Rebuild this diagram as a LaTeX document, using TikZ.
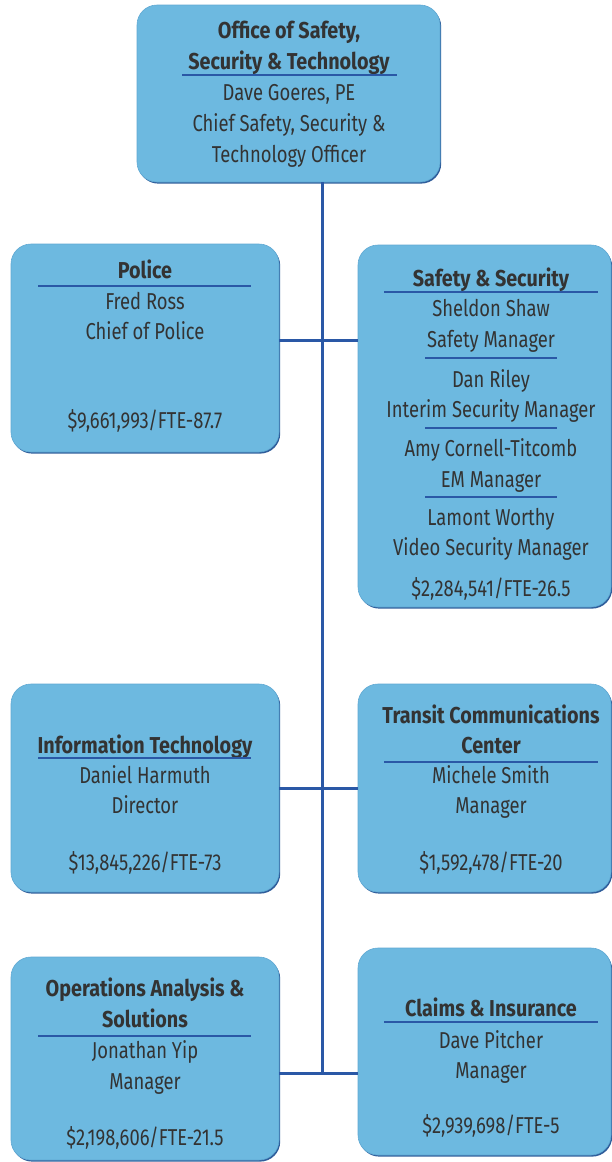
\documentclass[tikz,border=0pt]{standalone}
\usepackage{fontspec}
\setmainfont{Fira Sans}[FakeStretch=0.8, BoldFeatures={FakeStretch=0.86}]
\usetikzlibrary{positioning}
\definecolor{boxfill}{HTML}{6DB9E0}
\definecolor{boxedge}{HTML}{5FA8D3}
\definecolor{boxshadow}{HTML}{2F5D9A}
\definecolor{linkblue}{HTML}{2A58A6}
\definecolor{txt}{HTML}{333333}
\tikzset{
  orgbox/.style={rectangle, rounded corners=20pt, fill=boxfill, draw=boxedge, line width=0.6pt,
    preaction={fill=boxshadow, transform canvas={shift={(1.2pt,-1.6pt)}}}, inner sep=0pt},
  ln/.style={anchor=base, text=txt, inner sep=0pt, font=\fontsize{23}{27}\selectfont},
  hd/.style={ln, font=\fontsize{23}{27}\selectfont\bfseries},
  sep/.style={draw=linkblue, line width=1.1pt},
  link/.style={draw=linkblue, line width=3pt}
}
\begin{document}
\begin{tikzpicture}[x=1pt,y=-1pt]
\useasboundingbox (0,0) rectangle (612,1162);
% boxes
\node[orgbox, minimum width=303pt, minimum height=177pt] (top) at (288.5,93.5) {};
\node[orgbox, minimum width=268pt, minimum height=208pt] (police) at (145,348) {};
\node[orgbox, minimum width=253pt, minimum height=362pt] (safety) at (484.5,426) {};
\node[orgbox, minimum width=268pt, minimum height=208pt] (it) at (145,788) {};
\node[orgbox, minimum width=253pt, minimum height=208pt] (tcc) at (484.5,788) {};
\node[orgbox, minimum width=268pt, minimum height=203pt] (oa) at (145,1058.5) {};
\node[orgbox, minimum width=253pt, minimum height=207pt] (claims) at (484.5,1051.5) {};
% connectors
\coordinate (j1) at (322,340);
\coordinate (j2) at (322,788);
\coordinate (j3) at (322,1073);
\draw[link] (top.south -| j1) -- (j3);
\draw[link] (police.east |- j1) -- (safety.west |- j1);
\draw[link] (it.east |- j2) -- (tcc.west |- j2);
\draw[link] (oa.east |- j3) -- (claims.west |- j3);
% top text
\node[hd] (t1) at (289,38) {Office of Safety,};
\node[hd] (t2) at (289,69) {Security \& Technology};
\draw[sep] (182,75) -- (397,75);
\node[ln] (t3) at (289,100) {Dave Goeres, PE};
\node[ln] (t4) at (289,131) {Chief Safety, Security \&};
\node[ln] (t5) at (289,162) {Technology Officer};
% police
\node[hd] (p1) at (145,278) {Police};
\draw[sep] (38,286) -- (251,286);
\node[ln] (p2) at (145,309) {Fred Ross};
\node[ln] (p3) at (145,339) {Chief of Police};
\node[ln] (p4) at (145,428) {\$9,661,993/FTE-87.7};
% safety
\node[hd] (s1) at (491,286) {Safety \& Security};
\draw[sep] (384,292) -- (598,292);
\node[ln] (s2) at (491,316) {Sheldon Shaw};
\node[ln] (s3) at (491,347) {Safety Manager};
\draw[sep] (425,358) -- (557,358);
\node[ln] (s4) at (491,387) {Dan Riley};
\node[ln] (s5) at (491,417) {Interim Security Manager};
\draw[sep] (425,428) -- (557,428);
\node[ln] (s6) at (491,456) {Amy Cornell-Titcomb};
\node[ln] (s7) at (491,487) {EM Manager};
\draw[sep] (425,497) -- (557,497);
\node[ln] (s8) at (491,525) {Lamont Worthy};
\node[ln] (s9) at (491,555) {Video Security Manager};
\node[ln] (s10) at (491,596) {\$2,284,541/FTE-26.5};
% IT
\node[hd] (i1) at (145,753) {Information Technology};
\draw[sep] (38,758) -- (251,758);
\node[ln] (i2) at (145,783) {Daniel Harmuth};
\node[ln] (i3) at (145,813) {Director};
\node[ln] (i4) at (145,870) {\$13,845,226/FTE-73};
% TCC
\node[hd] (c1) at (491,723) {Transit Communications};
\node[hd] (c2) at (491,753) {Center};
\draw[sep] (384,762) -- (598,762);
\node[ln] (c3) at (491,783) {Michele Smith};
\node[ln] (c4) at (491,813) {Manager};
\node[ln] (c5) at (491,870) {\$1,592,478/FTE-20};
% OA
\node[hd] (o1) at (145,996) {Operations Analysis \&};
\node[hd] (o2) at (145,1027) {Solutions};
\draw[sep] (38,1036) -- (251,1036);
\node[ln] (o3) at (145,1058) {Jonathan Yip};
\node[ln] (o4) at (145,1089) {Manager};
\node[ln] (o5) at (145,1145) {\$2,198,606/FTE-21.5};
% claims
\node[hd] (k1) at (491,1016) {Claims \& Insurance};
\draw[sep] (384,1022) -- (598,1022);
\node[ln] (k2) at (491,1048) {Dave Pitcher};
\node[ln] (k3) at (491,1078) {Manager};
\node[ln] (k4) at (491,1133) {\$2,939,698/FTE-5};
\end{tikzpicture}
\end{document}
